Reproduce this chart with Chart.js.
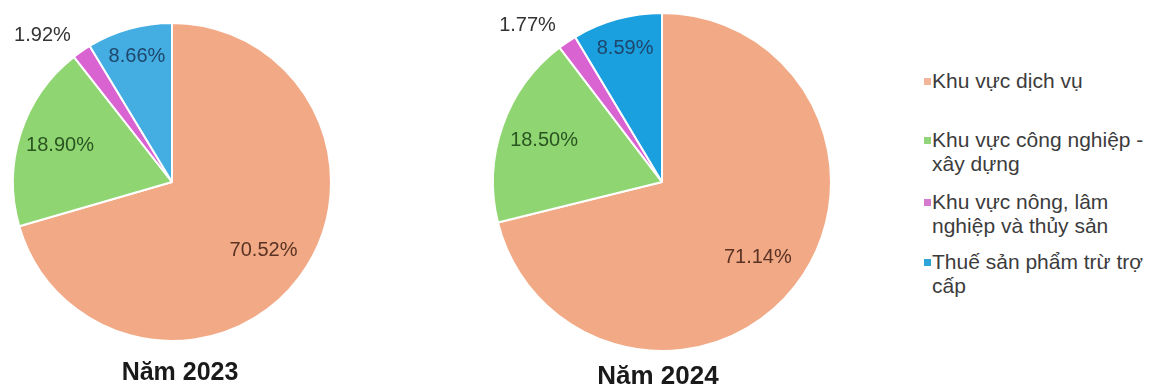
<!DOCTYPE html>
<html>
<head>
<meta charset="utf-8">
<script src="https://cdn.jsdelivr.net/npm/chart.js@4"></script>
<style>
  body { margin: 0; background: #fff; font-family: "Liberation Sans", Arial, sans-serif; }
  #wrap { position: relative; width: 1159px; height: 390px; overflow: hidden; }
  .pie { position: absolute; top: 0; }
  .title { position: absolute; font-weight: bold; font-size: 25px; line-height: 25px; color: #1a1a1a; text-align: center; width: 300px; }
  #legend { position: absolute; left: 924px; top: 0; color: #3c3c3c; font-size: 21px; line-height: 24px; }
  .item { position: absolute; left: 0; white-space: nowrap; }
  .item span.box { position: absolute; left: 0; top: 9px; width: 7px; height: 7px; }
  .item span.txt { position: absolute; left: 8px; top: 0; }
</style>
</head>
<body>
<div id="wrap">
  <div class="pie" style="left:0;width:344px;height:390px"><canvas id="pie2023"></canvas></div>
  <div class="pie" style="left:480px;width:364px;height:390px"><canvas id="pie2024"></canvas></div>
  <div class="title" style="left:30px;top:359px">Năm 2023</div>
  <div class="title" style="left:508px;top:363px;font-size:26px">Năm 2024</div>
  <div id="legend"></div>
</div>
<script>
// các khu vực kinh tế
const sectors = [
  'Khu vực dịch vụ',
  'Khu vực công nghiệp -<br>xây dựng',
  'Khu vực nông, lâm<br>nghiệp và thủy sản',
  'Thuế sản phẩm trừ trợ<br>cấp'
];
const values2023 = [70.52, 18.90, 1.92, 8.66];
const values2024 = [71.14, 18.50, 1.77, 8.59];

const colors2023 = ['#F2A985', '#8FD673', '#DA63D2', '#44AEE3'];
const colors2024 = ['#F2A985', '#8FD673', '#DA63D2', '#1A9FDF'];
const legendColors = ['#F2B59A', '#92D47A', '#D47BCF', '#2EA4D8'];
const labelColors = ['#5a3325', '#2a5420', '#333333', '#1f466b'];
// vị trí nhãn theo bán kính
const labelRadius = [0.72, 0.74, 1.12, 0.82];

const pctLabels = {
  id: 'pctLabels',
  afterDatasetsDraw(chart) {
    const ctx = chart.ctx;
    const meta = chart.getDatasetMeta(0);
    const data = chart.data.datasets[0].data;
    ctx.save();
    ctx.font = '20px "Liberation Sans", Arial, sans-serif';
    ctx.textBaseline = 'middle';
    meta.data.forEach((arc, i) => {
      const p = arc.getProps(['x', 'y', 'startAngle', 'endAngle', 'outerRadius'], true);
      const mid = (p.startAngle + p.endAngle) / 2;
      const r = p.outerRadius * labelRadius[i];
      const x = p.x + Math.cos(mid) * r;
      const y = p.y + Math.sin(mid) * r;
      ctx.fillStyle = labelColors[i];
      ctx.textAlign = labelRadius[i] > 1 ? 'right' : 'center';
      ctx.fillText(data[i].toFixed(2) + '%', x, y);
    });
    ctx.restore();
  }
};

function createPie(id, values, colors, padding) {
  const ctx = document.getElementById(id).getContext('2d');
  return new Chart(ctx, {
    type: 'pie',
    data: {
      labels: sectors,
      datasets: [{
        data: values,
        backgroundColor: colors,
        borderColor: '#ffffff',
        borderWidth: 2
      }]
    },
    options: {
      responsive: true,
      maintainAspectRatio: false,
      animation: false,
      layout: { padding: padding },
      plugins: {
        legend: { display: false },
        tooltip: { enabled: false }
      }
    },
    plugins: [pctLabels]
  });
}

createPie('pie2023', values2023, colors2023, { left: 12, right: 12, top: 22, bottom: 48 });
createPie('pie2024', values2024, colors2024, { left: 12, right: 12, top: 12, bottom: 38 });

// chú thích
const legendTops = [69, 128, 190, 250];
const legend = document.getElementById('legend');
sectors.forEach((s, i) => {
  const item = document.createElement('div');
  item.className = 'item';
  item.style.top = legendTops[i] + 'px';
  item.innerHTML = '<span class="box" style="background:' + legendColors[i] + '"></span><span class="txt">' + s + '</span>';
  legend.appendChild(item);
});
</script>
</body>
</html>
